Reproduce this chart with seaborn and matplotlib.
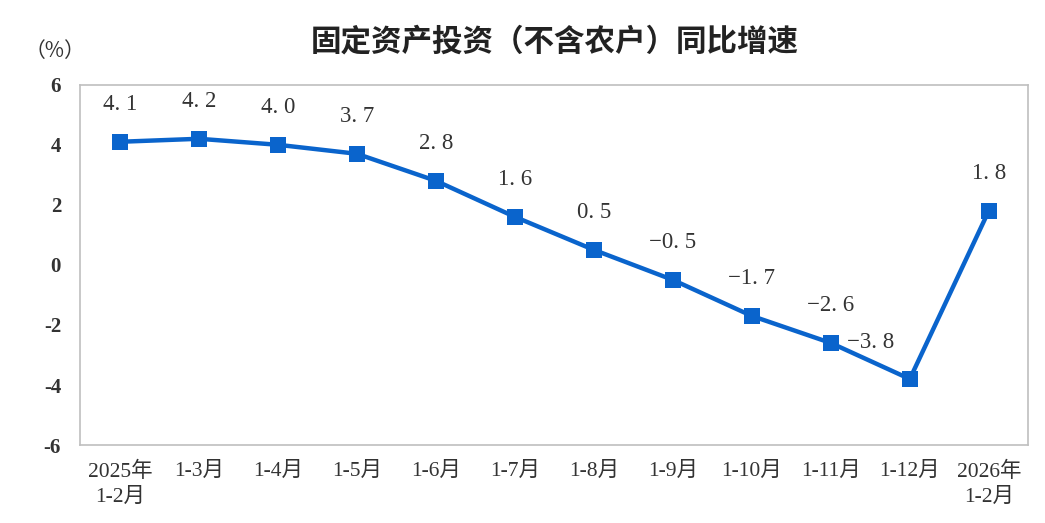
import matplotlib
matplotlib.use("Agg")
import matplotlib.pyplot as plt
import numpy as np
import pandas as pd
import seaborn as sns

periods = ["2025年\n1-2月", "1-3月", "1-4月", "1-5月", "1-6月", "1-7月",
           "1-8月", "1-9月", "1-10月", "1-11月", "1-12月", "2026年\n1-2月"]
growth = [4.1, 4.2, 4.0, 3.7, 2.8, 1.6, 0.5, -0.5, -1.7, -2.6, -3.8, 1.8]
yticks = [-6, -4, -2, 0, 2, 4, 6]

sns.set_theme(style="white")
plt.rcParams["font.family"] = ["Liberation Serif", "Noto Sans CJK SC", "DejaVu Sans"]
plt.rcParams["axes.unicode_minus"] = False

BLUE = "#0a64cc"
GRAY = "#bfbfbf"
TEXT = "#333333"

df = pd.DataFrame({"x": np.arange(len(periods)), "y": growth})

fig = plt.figure(figsize=(10.45, 5.23), dpi=100)
ax = fig.add_axes([0.077, 0.149, 0.907, 0.689])

sns.lineplot(data=df, x="x", y="y", ax=ax, color=BLUE, linewidth=3.2,
             marker="s", markersize=11, markeredgewidth=0, markerfacecolor=BLUE)

for i, v in enumerate(growth):
    lab = f"{v:.1f}".replace("-", "−").replace(".", ". ")
    dx, dy = 0, 27
    if i == len(growth) - 2:
        dx, dy = -28, 26
    ax.annotate(lab, (i, v), xytext=(dx, dy), textcoords="offset points",
                ha="center", va="center", fontsize=16.5, color=TEXT)

ax.set_xlim(-0.5, len(periods) - 0.5)
ax.set_ylim(-6, 6)
ax.set_yticks(yticks)
ax.set_yticklabels([str(t) for t in yticks], fontsize=15, fontweight="bold", color=TEXT)
ax.set_xticks(np.arange(len(periods)))
ax.set_xticklabels(periods, fontsize=15.5, color=TEXT, linespacing=1.4, va="top")
ax.set_xticks(np.arange(len(periods) - 1) + 0.5, minor=True)
ax.tick_params(axis="x", which="major", length=0, pad=12)
ax.tick_params(axis="x", which="minor", direction="in", length=6, color=GRAY, width=1)
ax.tick_params(axis="y", direction="in", length=6, color=GRAY, width=1, pad=14)
ax.set_xlabel("")
ax.set_ylabel("")
for s in ax.spines.values():
    s.set_color(GRAY)
    s.set_linewidth(1.2)
ax.grid(False)

fig.text(0.053, 0.903, "（%）", fontsize=15, color=TEXT, ha="center", va="center",
         family=["Noto Sans CJK SC", "DejaVu Sans"])
fig.text(0.531, 0.92, "固定资产投资（不含农户）同比增速", fontsize=22,
         fontweight="bold", color="#222222", ha="center", va="center",
         family=["Noto Sans CJK SC", "DejaVu Sans"])

fig.savefig("out.png", dpi=100)
